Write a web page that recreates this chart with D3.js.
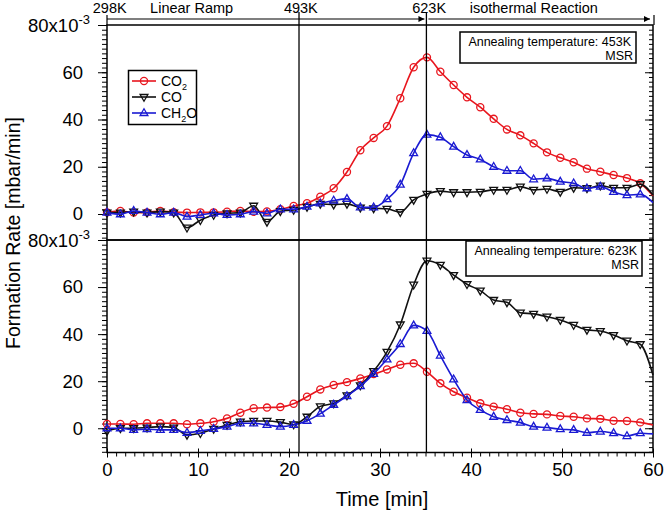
<!DOCTYPE html>
<html><head><meta charset="utf-8">
<script src="https://cdn.jsdelivr.net/npm/d3@7"></script>
<style>
html,body{margin:0;padding:0;background:#fff;}
svg{display:block;font-family:"Liberation Sans",Arial,Helvetica,sans-serif;}
</style></head>
<body>
<svg id="c" width="664" height="516"></svg>
<script>
// ---- data ----
const times = [0,1.47,2.93,4.40,5.86,7.33,8.79,10.26,11.72,13.19,14.65,16.12,17.58,19.05,20.51,21.98,23.44,24.91,26.37,27.84,29.30,30.77,32.23,33.70,35.16,36.63,38.09,39.56,41.02,42.49,43.95,45.42,46.88,48.35,49.81,51.28,52.74,54.21,55.67,57.14,58.60,60];
const seriesNames = ["CO2","CO","CH2O"];
// top panel (annealing 453K), values in 1e-3 mbar/min
const topCO2 = [0.7,1.3,0.6,0.7,1.3,0.8,0.6,0.7,0.7,1.0,1.3,0.9,1.1,2.0,3.4,4.6,7.3,10.9,17.8,27.0,32.2,37.2,49.0,62.1,66.3,60.2,54.6,49.4,45.2,40.3,35.8,33.3,29.9,26.1,23.8,21.9,19.2,17.9,16.5,15.2,13.0,7.7];
const topCO = [0.6,0.6,1.0,0.6,1.0,0.6,-5.8,-2.6,-0.4,0.3,0.6,3.5,-3.3,1.2,1.7,3.0,4.3,4.0,4.3,2.7,2.4,2.2,0.8,6.0,8.5,9.7,9.2,9.2,9.4,10.2,10.2,11.6,10.2,10.6,9.4,11.1,10.9,12.0,11.1,11.1,12.6,8.0];
const topCH2O = [0.6,-0.1,1.3,0.6,-0.1,0.6,-1.1,-0.4,0.3,-0.4,-0.1,1.0,0.3,2.0,2.0,3.1,4.5,5.7,6.4,2.8,2.8,6.3,12.4,25.8,33.6,32.5,28.5,25.0,23.1,20.0,18.3,18.3,14.7,15.1,13.7,13.0,10.9,11.6,9.4,8.0,8.3,4.8];
// bottom panel (annealing 623K)
const botCO2 = [1.8,1.8,1.7,2.1,2.1,2.1,1.7,2.1,2.8,4.2,6.6,8.5,8.8,9.0,10.4,13.4,16.5,18.4,19.6,21.2,23.0,25.0,27.0,27.6,24.0,19.1,15.5,13.0,10.6,9.2,8.1,6.6,6.1,5.9,5.2,4.9,4.2,4.0,3.2,3.1,2.5,1.4];
const botCO = [-1.2,0,0,0.3,0.7,0.3,-2.8,-2.1,-0.3,1.4,2.8,3.1,3.1,2.6,1.6,4.9,9.3,10.6,14.0,18.2,24.3,32.5,44.1,61.0,71.2,69.4,65.1,61.2,58.5,54.5,53.5,49.1,48.6,47.4,46.0,43.9,41.8,41.3,39.6,37.2,35.7,22.6];
const botCH2O = [0,0,-0.7,-0.4,-0.7,-0.7,-1.9,-1.1,-0.3,0.7,2.1,2.1,1.4,0.7,1.4,3.2,6.2,10.0,13.7,17.9,23.1,29.3,35.8,43.7,41.4,30.9,20.8,12.0,7.8,4.9,3.5,2.4,0.7,0.3,-0.4,-0.7,-1.9,-1.4,-2.1,-3.3,-2.1,-2.4];
const yTickValues = [0,20,40,60];
const xTickValues = [0,10,20,30,40,50,60];
const markerLines = [21.1, 35.1];
const headerLabels = [{t:0.3,s:"298K"},{t:9.3,s:"Linear Ramp"},{t:21.3,s:"493K"},{t:35.4,s:"623K"},{t:46.9,s:"isothermal Reaction"}];
const panelNotes = ["Annealing temperature: 453K","Annealing temperature: 623K"];

// ---- drawing ----
const svg = d3.select("#c");
const colors = {CO2:"#e8161e", CO:"#111111", CH2O:"#1a1ad2"};
const x = d3.scaleLinear().domain([0,60]).range([107,653]);
const yTop = d3.scaleLinear().domain([-11,80]).range([240,25]);
const yBot = d3.scaleLinear().domain([-10.3,80]).range([452.5,240]);

function markerPath(name){
  if(name==="CO2") return d3.symbol().type(d3.symbolCircle).size(40)();
  if(name==="CH2O") return "M0,-4.3L3.9,2.5L-3.9,2.5Z";
  return "M0,4.3L3.9,-2.5L-3.9,-2.5Z";
}

function drawPanel(y, data, note, noteBox){
  const g = svg.append("g");
  g.append("g").attr("transform","translate(107,0)")
    .call(d3.axisLeft(y).tickValues(d3.range(-10,80,2)).tickSize(5).tickFormat(""))
    .call(a=>a.select(".domain").remove());
  g.append("g").attr("transform","translate(107,0)")
    .call(d3.axisLeft(y).tickValues(yTickValues.concat([80])).tickSize(9).tickPadding(15).tickFormat(d=>d===80?"":d))
    .call(a=>a.select(".domain").remove())
    .call(a=>a.selectAll("text").attr("font-size",18.5).attr("fill","#000").attr("font-family","Liberation Sans, Arial"));
  const t80 = g.append("text").attr("x",90).attr("y",y(80)+7).attr("text-anchor","end")
    .attr("font-size",18.5).attr("fill","#000");
  t80.append("tspan").text("80x10");
  t80.append("tspan").attr("dy",-8).attr("font-size",13).text("-3");
  g.append("g").attr("transform","translate(653,0)")
    .call(d3.axisRight(y).tickValues(d3.range(-10,80,2)).tickSize(-4).tickFormat(""))
    .call(a=>a.select(".domain").remove());
  g.append("g").attr("transform","translate(653,0)")
    .call(d3.axisRight(y).tickValues(yTickValues).tickSize(-8).tickFormat(""))
    .call(a=>a.select(".domain").remove());
  g.selectAll(".tick line").attr("stroke","#000").attr("stroke-width",1);
  g.append("rect").attr("x",107).attr("y",y.range()[1]).attr("width",546)
    .attr("height",y.range()[0]-y.range()[1]).attr("fill","none").attr("stroke","#000").attr("stroke-width",1.5);
  const line = d3.line().x((d,i)=>x(times[i])).y(d=>y(d)).curve(d3.curveMonotoneX);
  seriesNames.forEach(name=>{
    const vals = data[name];
    g.append("path").attr("d",line(vals)).attr("fill","none")
      .attr("stroke",colors[name]).attr("stroke-width",1.6);
    g.selectAll(null).data(vals.slice(0,41)).enter().append("path")
      .attr("d",markerPath(name))
      .attr("transform",(d,i)=>`translate(${x(times[i])},${y(d)})`)
      .attr("fill","none").attr("stroke",colors[name]).attr("stroke-width",1.3);
  });
  g.append("rect").attr("x",noteBox[0]).attr("y",noteBox[1]).attr("width",noteBox[2]).attr("height",noteBox[3])
    .attr("fill","#fff").attr("stroke","#000").attr("stroke-width",1.5);
  g.append("text").attr("x",noteBox[0]+noteBox[2]-5).attr("y",noteBox[1]+13.5).attr("text-anchor","end")
    .attr("font-size",12.5).text(note);
  g.append("text").attr("x",noteBox[0]+noteBox[2]-3).attr("y",noteBox[1]+27.5).attr("text-anchor","end")
    .attr("font-size",12.5).text("MSR");
  return g;
}

drawPanel(yTop,{CO2:topCO2,CO:topCO,CH2O:topCH2O},panelNotes[0],[460,32,176,31]);
drawPanel(yBot,{CO2:botCO2,CO:botCO,CH2O:botCH2O},panelNotes[1],[466,241,176,35]);

// x axis
const xa = svg.append("g").attr("transform","translate(0,452.5)");
xa.append("g").call(d3.axisBottom(x).tickValues(d3.range(0,61,1)).tickSize(4).tickFormat(""))
  .call(a=>a.select(".domain").remove());
xa.append("g").call(d3.axisBottom(x).tickValues(xTickValues).tickSize(5).tickPadding(5).tickFormat(d3.format("d")))
  .call(a=>a.select(".domain").remove())
  .call(a=>a.selectAll("text").attr("font-size",18.5).attr("fill","#000").attr("font-family","Liberation Sans, Arial"));
xa.append("g").call(d3.axisTop(x).tickValues(xTickValues).tickSize(4).tickFormat(""))
  .call(a=>a.select(".domain").remove());
xa.selectAll(".tick line").attr("stroke","#000");

// vertical marker lines
svg.selectAll(".vline").data(markerLines).enter().append("line")
  .attr("x1",d=>x(d)).attr("x2",d=>x(d)).attr("y1",12).attr("y2",452.5)
  .attr("stroke","#000").attr("stroke-width",1.3);

// header arrows
const defs = svg.append("defs");
defs.append("marker").attr("id","arr").attr("viewBox","0 0 10 10").attr("refX",10).attr("refY",5)
  .attr("markerWidth",9).attr("markerHeight",6).attr("markerUnits","userSpaceOnUse").attr("orient","auto")
  .append("path").attr("d","M0,0L10,5L0,10Z").attr("fill","#000");
svg.append("line").attr("x1",x(0)).attr("x2",x(35.1)-2).attr("y1",19).attr("y2",19)
  .attr("stroke","#000").attr("stroke-width",1.2).attr("marker-end","url(#arr)");
svg.append("line").attr("x1",x(0)).attr("x2",x(0)).attr("y1",15).attr("y2",25).attr("stroke","#000").attr("stroke-width",1.2);
svg.append("line").attr("x1",x(35.1)+2).attr("x2",x(60)-3).attr("y1",19).attr("y2",19)
  .attr("stroke","#000").attr("stroke-width",1.2).attr("marker-end","url(#arr)");
svg.append("line").attr("x1",x(60)+1).attr("x2",x(60)+1).attr("y1",15).attr("y2",25).attr("stroke","#000").attr("stroke-width",1.2);
svg.selectAll(".hdr").data(headerLabels).enter().append("text")
  .attr("x",d=>x(d.t)).attr("y",12.5).attr("text-anchor","middle").attr("font-size",14.5).text(d=>d.s);

// legend
const lg = svg.append("g");
lg.append("rect").attr("x",128.5).attr("y",70.5).attr("width",68).attr("height",54)
  .attr("fill","#fff").attr("stroke","#000").attr("stroke-width",1.5);
const legendY = [81,97,113];
seriesNames.forEach((name,i)=>{
  const yy = legendY[i];
  lg.append("line").attr("x1",132).attr("x2",156).attr("y1",yy).attr("y2",yy)
    .attr("stroke",colors[name]).attr("stroke-width",1.6);
  lg.append("path").attr("d",markerPath(name)).attr("transform",`translate(144,${yy})`)
    .attr("fill","none").attr("stroke",colors[name]).attr("stroke-width",1.3);
  const tx = lg.append("text").attr("x",161).attr("y",yy+5).attr("font-size",14);
  if(name==="CO2"){ tx.append("tspan").text("CO"); tx.append("tspan").attr("dy",4).attr("font-size",9).text("2"); }
  else if(name==="CH2O"){ tx.append("tspan").text("CH"); tx.append("tspan").attr("dy",4).attr("font-size",9).text("2"); tx.append("tspan").attr("dy",-4).text("O"); }
  else tx.text("CO");
});

// axis titles
svg.append("text").attr("x",382).attr("y",506).attr("text-anchor","middle").attr("font-size",20).text("Time [min]");
svg.append("text").attr("transform","translate(19.5,233) rotate(-90)").attr("text-anchor","middle")
  .attr("font-size",19.5).text("Formation Rate [mbar/min]");
</script>
</body></html>
